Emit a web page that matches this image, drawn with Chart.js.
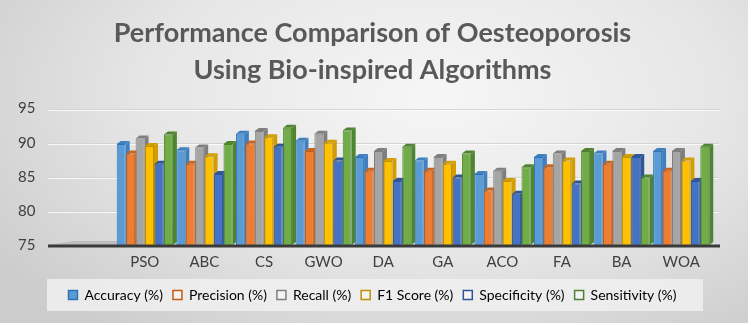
<!DOCTYPE html>
<html>
<head>
<meta charset="utf-8">
<script src="https://cdn.jsdelivr.net/npm/chart.js@4.4.1/dist/chart.umd.min.js"></script>
<style>
  body { margin: 0; background: #fff; }
  #wrap {
    width: 751px; height: 325px;
    background: #fff radial-gradient(ellipse 70% 90% at 58% 30%, #f6f6f6 0%, #e6e6e6 55%, #cdcdcd 100%) no-repeat;
    background-size: 748px 323px;
  }
</style>
</head>
<body>
<div id="wrap"><canvas id="perfChart" width="751" height="325"></canvas></div>
<script>
const categories = ['PSO', 'ABC', 'CS', 'GWO', 'DA', 'GA', 'ACO', 'FA', 'BA', 'WOA'];
const accuracy    = [89.8, 88.9, 91.3, 90.3, 87.9, 87.4, 85.4, 87.9, 88.4, 88.8];
const precision   = [88.4, 86.9, 89.9, 88.8, 85.9, 85.9, 83.0, 86.4, 86.9, 85.9];
const recall      = [90.6, 89.3, 91.7, 91.3, 88.8, 87.9, 85.9, 88.4, 88.8, 88.8];
const f1Score     = [89.5, 88.0, 90.8, 90.0, 87.3, 86.9, 84.4, 87.4, 87.9, 87.4];
const specificity = [86.9, 85.4, 89.4, 87.4, 84.4, 84.9, 82.5, 84.0, 87.9, 84.4];
const sensitivity = [91.2, 89.8, 92.2, 91.8, 89.4, 88.4, 86.4, 88.8, 84.9, 89.4];
const yTicks = [75, 80, 85, 90, 95];

const series = [
  { label: 'Accuracy (%)',    data: accuracy,    color: '#5B9BD5', edge: '#2E75B6', side: '#3F7FBF' },
  { label: 'Precision (%)',   data: precision,   color: '#ED7D31', edge: '#C55A11', side: '#C8661F' },
  { label: 'Recall (%)',      data: recall,      color: '#A5A5A5', edge: '#7F7F7F', side: '#7E7E7E' },
  { label: 'F1 Score (%)',    data: f1Score,     color: '#FFC000', edge: '#BF9000', side: '#D19D00' },
  { label: 'Specificity (%)', data: specificity, color: '#4472C4', edge: '#2F5597', side: '#30569A' },
  { label: 'Sensitivity (%)', data: sensitivity, color: '#70AD47', edge: '#507E32', side: '#4F8430' }
];

const FLOOR_LEFT = 48;

// light grid lines, floor and bar depth, drawn from the library's scales
const backdrop = {
  id: 'backdrop',
  beforeDatasetsDraw(chart) {
    const { ctx, chartArea, scales } = chart;
    const y = scales.y;
    const right = chartArea.right + 8;
    ctx.save();
    ctx.lineWidth = 1;
    yTicks.slice(1).forEach(v => {
      const py = Math.round(y.getPixelForValue(v)) + 0.5;
      ctx.strokeStyle = '#d4d4d4';
      ctx.beginPath(); ctx.moveTo(FLOOR_LEFT, py); ctx.lineTo(right, py); ctx.stroke();
      ctx.strokeStyle = 'rgba(255,255,255,0.8)';
      ctx.beginPath(); ctx.moveTo(FLOOR_LEFT, py + 1); ctx.lineTo(right, py + 1); ctx.stroke();
    });
    const base = y.getPixelForValue(75);
    ctx.fillStyle = '#bdbdbd';
    ctx.beginPath();
    ctx.moveTo(FLOOR_LEFT, base);
    ctx.lineTo(chartArea.left, base);
    ctx.lineTo(chartArea.left + 6, base - 4);
    ctx.lineTo(FLOOR_LEFT + 26, base - 4);
    ctx.closePath();
    ctx.fill();
    // 3D depth for each bar
    chart.data.datasets.forEach((ds, i) => {
      const meta = chart.getDatasetMeta(i);
      meta.data.forEach(bar => {
        const w = bar.width, x0 = bar.x - w / 2, x1 = bar.x + w / 2, top = bar.y;
        const dx = 4, dy = 3;
        ctx.fillStyle = series[i].side;
        ctx.beginPath();
        ctx.moveTo(x1, top); ctx.lineTo(x1 + dx, top - dy);
        ctx.lineTo(x1 + dx, base - dy); ctx.lineTo(x1, base);
        ctx.closePath(); ctx.fill();
        ctx.beginPath();
        ctx.moveTo(x0, top); ctx.lineTo(x0 + dx, top - dy);
        ctx.lineTo(x1 + dx, top - dy); ctx.lineTo(x1, top);
        ctx.closePath(); ctx.fill();
      });
    });
    ctx.restore();
  },
  afterDatasetsDraw(chart) {
    const { ctx, chartArea, scales } = chart;
    const base = scales.y.getPixelForValue(75);
    ctx.save();
    ctx.fillStyle = '#3a3a3a';
    ctx.fillRect(FLOOR_LEFT, base - 0.5, chartArea.right + 9 - FLOOR_LEFT, 3);
    ctx.restore();
  }
};

// legend background panel
const legendPanel = {
  id: 'legendPanel',
  beforeDraw(chart) {
    const lg = chart.legend;
    if (!lg) return;
    const { ctx } = chart;
    ctx.save();
    ctx.fillStyle = 'rgba(240,240,240,0.85)';
    ctx.fillRect(47, lg.top + 1, 656, lg.height - 2);
    ctx.restore();
  }
};

const ctx = document.getElementById('perfChart').getContext('2d');
new Chart(ctx, {
  type: 'bar',
  data: {
    labels: categories,
    datasets: series.map(s => ({
      label: s.label,
      data: s.data,
      backgroundColor: s.color,
      borderColor: s.edge,
      borderWidth: 1,
      base: 75,
      categoryPercentage: 0.95,
      barPercentage: 0.95
    }))
  },
  options: {
    responsive: false,
    animation: false,
    layout: { padding: { left: 34, right: 40, top: 10, bottom: 13 } },
    plugins: {
      title: {
        display: true,
        text: ['Performance Comparison of Oesteoporosis', 'Using Bio-inspired Algorithms'],
        color: '#595959',
        font: { family: 'Lato', size: 27, weight: 'bold', lineHeight: 1.4 },
        padding: { top: 4, bottom: 19 }
      },
      legend: {
        position: 'bottom',
        labels: {
          boxWidth: 9,
          boxHeight: 9,
          padding: 10,
          color: '#404040',
          font: { family: 'Lato', size: 14 },
          generateLabels(chart) {
            return series.map((s, i) => ({
              text: s.label,
              fillStyle: i === 0 ? s.color : '#f4f4f4',
              strokeStyle: s.edge,
              lineWidth: 1.5,
              datasetIndex: i,
              hidden: false
            }));
          }
        }
      },
      tooltip: { enabled: false }
    },
    scales: {
      x: {
        grid: { display: false },
        border: { display: false },
        afterFit(axis) { axis.height += 7; },
        ticks: { color: '#404040', font: { family: 'Lato', size: 15 }, padding: 0 }
      },
      y: {
        min: 75,
        max: 95,
        afterBuildTicks(axis) { axis.ticks = yTicks.map(v => ({ value: v })); },
        afterFit(axis) { axis.width = 81; },
        grid: { display: false },
        border: { display: false },
        ticks: { color: '#404040', font: { family: 'Lato', size: 15 }, mirror: true, padding: -97 }
      }
    }
  },
  plugins: [backdrop, legendPanel]
});
</script>
</body>
</html>
